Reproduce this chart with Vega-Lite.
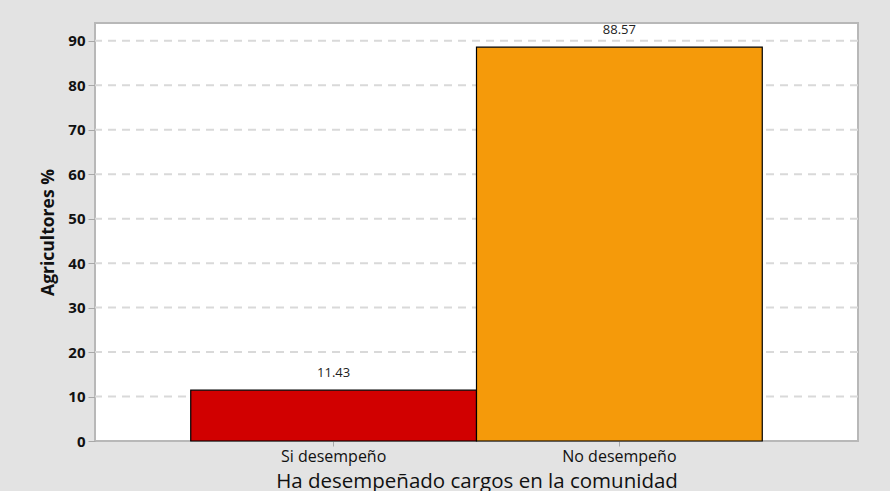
{
  "$schema": "https://vega.github.io/schema/vega-lite/v6.json",
  "autosize": {"type": "none"},
  "width": 763,
  "height": 418,
  "padding": {"left": 95, "top": 23, "right": 32, "bottom": 50},
  "background": "#e3e3e3",
  "data": {"values": [
    {"cat": "Si desempeño", "pct": 11.43},
    {"cat": "No desempeño", "pct": 88.57}
  ]},
  "encoding": {
    "x": {
      "field": "cat", "type": "nominal", "sort": null,
      "scale": {"paddingInner": 0, "paddingOuter": 0.335},
      "axis": {
        "title": "Ha desempeñado cargos en la comunidad",
        "labelAngle": 0, "labelFontSize": 16, "labelColor": "#111",
        "labelFont": "Open Sans", "titleFont": "Open Sans",
        "titleFontSize": 20.5, "titleFontWeight": 500, "titleColor": "#111",
        "domain": false, "tickColor": "#a8a8a8", "tickSize": 5,
        "labelPadding": 2, "titlePadding": 7
      }
    },
    "y": {
      "field": "pct", "type": "quantitative",
      "scale": {"domain": [0, 94], "nice": false},
      "axis": {
        "title": "Agricultores %",
        "values": [0, 10, 20, 30, 40, 50, 60, 70, 80, 90],
        "labelFontSize": 15, "labelFontWeight": "bold", "labelColor": "#111",
        "labelFont": "Open Sans", "titleFont": "Open Sans",
        "titleFontSize": 17.5, "titleFontWeight": "bold", "titleColor": "#111",
        "domain": false, "tickColor": "#a8a8a8", "tickSize": 7,
        "grid": false, "labelPadding": 3, "titlePadding": 10
      }
    }
  },
  "layer": [
    {
      "mark": {"type": "rule", "stroke": "#d9d9d9", "strokeWidth": 2, "strokeDash": [8, 6]},
      "data": {"values": [{"g": 10}, {"g": 20}, {"g": 30}, {"g": 40}, {"g": 50}, {"g": 60}, {"g": 70}, {"g": 80}, {"g": 90}]},
      "encoding": {"y": {"field": "g", "type": "quantitative"}, "x": null}
    },
    {
      "mark": {"type": "bar", "stroke": "#000", "strokeWidth": 1.2},
      "encoding": {
        "color": {
          "field": "cat", "type": "nominal", "sort": null, "legend": null,
          "scale": {"domain": ["Si desempeño", "No desempeño"], "range": ["#d10000", "#f59a0a"]}
        }
      }
    },
    {
      "mark": {"type": "text", "baseline": "middle", "dy": -17, "fontSize": 13, "font": "Open Sans", "color": "#222"},
      "encoding": {"text": {"field": "pct", "type": "quantitative", "format": ".2f"}}
    }
  ],
  "config": {
    "view": {"stroke": "#b8b8b8", "strokeWidth": 2, "fill": "#ffffff"}
  }
}
